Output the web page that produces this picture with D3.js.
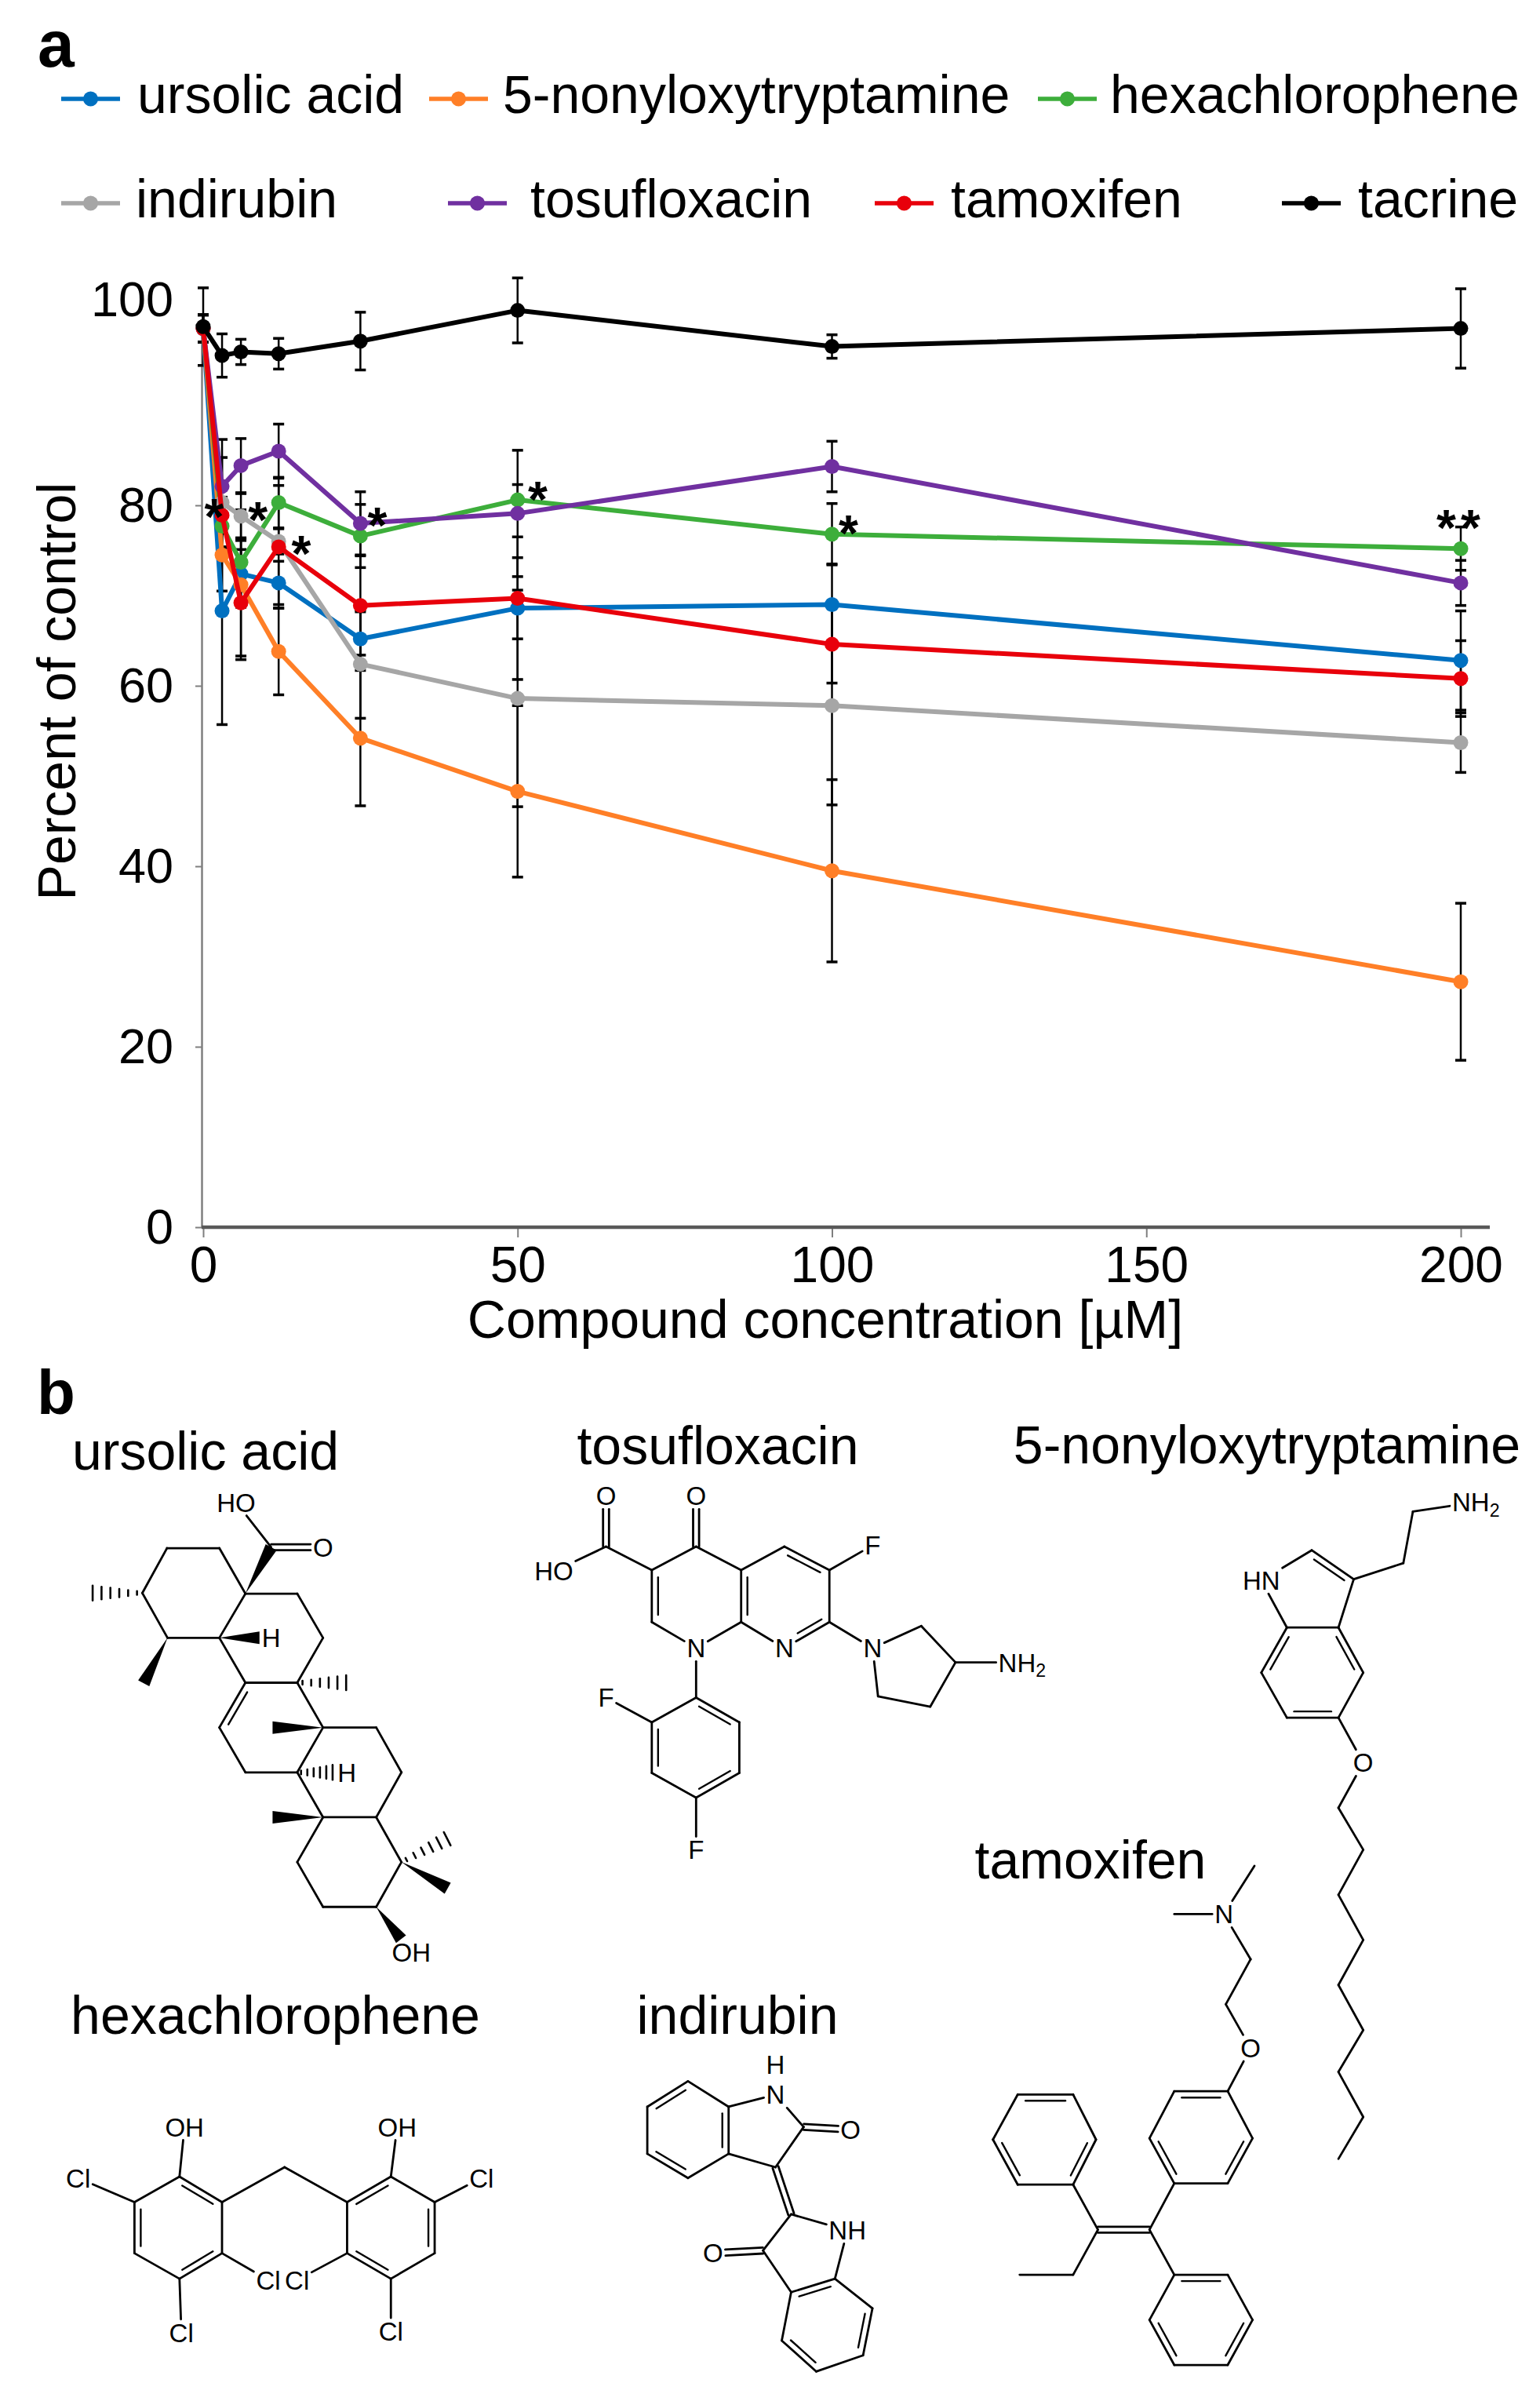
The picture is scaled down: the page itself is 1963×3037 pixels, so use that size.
<!DOCTYPE html>
<html><head><meta charset="utf-8">
<script src="https://cdn.jsdelivr.net/npm/d3@7"></script>
<style>
body{margin:0;background:#fff}
svg{display:block}
text{font-family:"Liberation Sans",Arial,Helvetica,sans-serif}
</style>
</head><body>
<svg id="c" width="1963" height="3037"></svg>
<script>
// ---------------- DATA ----------------
const concentrations = [0, 3, 6, 12, 25, 50, 100, 200];
const seriesNames = ["ursolic acid","5-nonyloxytryptamine","hexachlorophene","indirubin","tosufloxacin","tamoxifen","tacrine"];
const seriesColors = ["#0070C0","#FF7F27","#3DAE3B","#A6A6A6","#7030A0","#E8000B","#000000"];

const ursolicAcid          = [99.6, 68.3, 72.4, 71.4, 65.2, 68.6, 69.0, 62.8];
const ursolicAcidSD        = [1.5, 12.6, 3.7, 2.4, 3.0, 7.9, 4.5, 5.5];
const nonyloxytryptamine   = [99.6, 74.5, 71.2, 63.8, 54.2, 48.3, 39.5, 27.2];
const nonyloxytryptamineSD = [1.5, 4.0, 8.3, 4.8, 7.5, 9.5, 10.1, 8.7];
const hexachlorophene      = [99.6, 77.7, 73.7, 80.3, 76.6, 80.6, 76.8, 75.2];
const hexachloropheneSD    = [1.5, 3.0, 2.7, 2.8, 3.5, 1.7, 3.4, 2.4];
const indirubin            = [99.6, 80.3, 78.8, 76.0, 62.4, 58.6, 57.8, 53.7];
const indirubinSD          = [1.5, 5.0, 2.5, 1.4, 6.0, 12.0, 11.0, 3.3];
const tosufloxacin         = [99.6, 82.1, 84.4, 86.0, 78.0, 79.1, 84.3, 71.4];
const tosufloxacinSD       = [1.5, 5.2, 3.0, 3.0, 3.5, 7.0, 2.8, 2.5];
const tamoxifen            = [99.6, 78.9, 69.2, 75.4, 68.9, 69.7, 64.6, 60.8];
const tamoxifenSD          = [1.5, 3.5, 5.9, 6.8, 5.5, 4.5, 4.3, 4.2];
const tacrine              = [99.8, 96.6, 97.0, 96.8, 98.2, 101.6, 97.6, 99.6];
const tacrineSD            = [4.3, 2.4, 1.4, 1.7, 3.2, 3.6, 1.3, 4.4];

const seriesValues = [ursolicAcid, nonyloxytryptamine, hexachlorophene, indirubin, tosufloxacin, tamoxifen, tacrine];
const seriesSD = [ursolicAcidSD, nonyloxytryptamineSD, hexachloropheneSD, indirubinSD, tosufloxacinSD, tamoxifenSD, tacrineSD];

// significance marks (position in data units)
const starX = [1.75, 8.7, 15.6, 27.7, 53.2, 102.6, 200];
const starY = [79.9, 79.6, 75.8, 79.0, 81.8, 78.1, 78.7];
const starText = ["*","*","*","*","*","*","**"];

const xTicks = [0, 50, 100, 150, 200];
const yTicks = [0, 20, 40, 60, 80, 100];

// ---------------- CHART ----------------
const svg = d3.select("#c");
const x = d3.scaleLinear().domain([0, 200]).range([259, 1862]);
const y = d3.scaleLinear().domain([0, 100]).range([1564, 414]);

svg.append("text").attr("x", 48).attr("y", 85).attr("font-size", 84).attr("font-weight", "bold").text("a");

// legend layout
const legendLineX = [78, 547, 1323, 78, 571, 1115, 1634];
const legendTextX = [175, 641, 1415, 173, 676, 1212, 1731];
const legendRowOf = [0, 0, 0, 1, 1, 1, 1];
const legendRowY = [126, 259];
const lg = svg.append("g");
seriesNames.forEach((n, i) => {
  const yy = legendRowY[legendRowOf[i]];
  lg.append("line").attr("x1", legendLineX[i]).attr("x2", legendLineX[i] + 75)
    .attr("y1", yy).attr("y2", yy).attr("stroke", seriesColors[i]).attr("stroke-width", 5.5);
  lg.append("circle").attr("cx", legendLineX[i] + 37.5).attr("cy", yy).attr("r", 9.5).attr("fill", seriesColors[i]);
  lg.append("text").attr("x", legendTextX[i]).attr("y", yy + 17.5).attr("font-size", 68).text(n);
});

// Y axis
const gy = svg.append("g").attr("transform", `translate(${x(0) - 2},0)`)
  .call(d3.axisLeft(y).tickValues(yTicks).tickSize(8).tickSizeOuter(0).tickPadding(28));
gy.select(".domain").attr("stroke", "#7f7f7f").attr("stroke-width", 2.5);
gy.selectAll(".tick line").attr("stroke", "#7f7f7f").attr("stroke-width", 2);
gy.selectAll(".tick text").attr("font-size", 63).attr("fill", "#000")
  .attr("font-family", "Liberation Sans, Arial, sans-serif");
gy.selectAll(".tick text").filter(d => d === 100).attr("y", -32);

// X axis
const gx = svg.append("g").attr("transform", `translate(0,${y(0)})`)
  .call(d3.axisBottom(x).tickValues(xTicks).tickSize(13).tickSizeOuter(0).tickPadding(12));
gx.select(".domain").remove();
gx.selectAll(".tick line").attr("stroke", "#7f7f7f").attr("stroke-width", 2);
gx.selectAll(".tick text").attr("font-size", 64).attr("fill", "#000")
  .attr("font-family", "Liberation Sans, Arial, sans-serif");
svg.append("line").attr("x1", x(0) - 2).attr("x2", 1899).attr("y1", y(0)).attr("y2", y(0))
  .attr("stroke", "#595959").attr("stroke-width", 4.5);

// axis titles
svg.append("text").attr("transform", "translate(96,881) rotate(-90)")
  .attr("text-anchor", "middle").attr("font-size", 68).text("Percent of control");
svg.append("text").attr("x", 1052).attr("y", 1705).attr("text-anchor", "middle")
  .attr("font-size", 68).text("Compound concentration [µM]");

// error bars
const eg = svg.append("g");
seriesValues.forEach((vals, s) => {
  vals.forEach((v, k) => {
    const e = seriesSD[s][k], cx = x(concentrations[k]);
    eg.append("line").attr("x1", cx).attr("x2", cx).attr("y1", y(v - e)).attr("y2", y(v + e))
      .attr("stroke", "#000").attr("stroke-width", 2.5);
    [v - e, v + e].forEach(t => eg.append("line").attr("x1", cx - 7).attr("x2", cx + 7)
      .attr("y1", y(t)).attr("y2", y(t)).attr("stroke", "#000").attr("stroke-width", 3.5));
  });
});

// lines + markers
const line = d3.line().x((d, k) => x(concentrations[k])).y(d => y(d));
seriesValues.forEach((vals, s) => {
  const g = svg.append("g");
  g.append("path").attr("d", line(vals)).attr("fill", "none")
    .attr("stroke", seriesColors[s]).attr("stroke-width", 6).attr("stroke-linejoin", "round");
  g.selectAll("circle").data(vals).join("circle")
    .attr("cx", (d, k) => x(concentrations[k])).attr("cy", d => y(d)).attr("r", 9.5)
    .attr("fill", seriesColors[s]);
});

// stars
starText.forEach((t, i) => {
  svg.append("text").attr("x", x(starX[i])).attr("y", y(starY[i]) + 36)
    .attr("text-anchor", "middle").attr("font-size", 64).attr("font-weight", "bold")
    .attr("letter-spacing", t.length > 1 ? 6 : 0).text(t);
});

// ---------------- PANEL b: structures ----------------
svg.append("text").attr("x", 47).attr("y", 1802).attr("font-size", 80).attr("font-weight", "bold").text("b");

const titles = [
  ["ursolic acid", 262, 1873], ["tosufloxacin", 915, 1866], ["5-nonyloxytryptamine", 1615, 1865],
  ["tamoxifen", 1390, 2394], ["hexachlorophene", 351, 2592], ["indirubin", 940, 2592]
];
titles.forEach(t => svg.append("text").attr("x", t[1]).attr("y", t[2]).attr("text-anchor", "middle")
  .attr("font-size", 68).text(t[0]));

const LABEL_FS = 33;
function drawMolecule(m) {
  const g = svg.append("g");
  const P = m.atoms.map(a => [m.ox + a[0] * m.sx, m.oy + a[1] * m.sy]);
  const box = {};
  (m.labels || []).forEach(([i, txt]) => {
    const t = g.append("text").attr("x", P[i][0]).attr("y", P[i][1]).attr("dy", "0.36em")
      .attr("text-anchor", "middle").attr("font-size", LABEL_FS).attr("fill", "#000");
    const sub = txt.match(/^(.*?)(\d)$/);
    if (sub) {
      t.append("tspan").text(sub[1]);
      t.append("tspan").attr("font-size", LABEL_FS * 0.7).attr("dy", "0.3em").text(sub[2]);
    } else t.text(txt);
    const w = t.node().getComputedTextLength();
    box[i] = [w / 2 + 3, LABEL_FS * 0.36 + 5];
  });
  function endp(i, j) {
    const [x1, y1] = P[i], [x2, y2] = P[j];
    if (!box[i]) return [x1, y1];
    const dx = x2 - x1, dy = y2 - y1, L = Math.hypot(dx, dy), ux = dx / L, uy = dy / L;
    const [hw, hh] = box[i];
    const t = Math.min(Math.abs(ux) > 1e-6 ? hw / Math.abs(ux) : 1e9, Math.abs(uy) > 1e-6 ? hh / Math.abs(uy) : 1e9);
    return [x1 + ux * t, y1 + uy * t];
  }
  const seg = (a, b, w) => g.append("line").attr("x1", a[0]).attr("y1", a[1]).attr("x2", b[0]).attr("y2", b[1])
    .attr("stroke", "#000").attr("stroke-width", w || 2.8).attr("stroke-linecap", "round");
  m.bonds.forEach(bd => {
    const [i, j, type = "s", ri] = bd;
    const a = endp(i, j), c = endp(j, i);
    const dx = c[0] - a[0], dy = c[1] - a[1], L = Math.hypot(dx, dy), ux = dx / L, uy = dy / L, nx = -uy, ny = ux;
    if (type === "s") seg(a, c);
    else if (type === "D") {
      const o = 3.8;
      seg([a[0] + nx * o, a[1] + ny * o], [c[0] + nx * o, c[1] + ny * o]);
      seg([a[0] - nx * o, a[1] - ny * o], [c[0] - nx * o, c[1] - ny * o]);
    } else if (type === "r") {
      seg(a, c);
      const ring = m.rings[ri];
      const ctr = [d3.mean(ring, k => P[k][0]), d3.mean(ring, k => P[k][1])];
      const mid = [(a[0] + c[0]) / 2, (a[1] + c[1]) / 2];
      const side = Math.sign(nx * (ctr[0] - mid[0]) + ny * (ctr[1] - mid[1])) || 1;
      const o = 8 * side, sh = 0.14 * L;
      seg([a[0] + nx * o + ux * sh, a[1] + ny * o + uy * sh], [c[0] + nx * o - ux * sh, c[1] + ny * o - uy * sh], 2.4);
    } else if (type === "w") {
      const W = 16;
      g.append("polygon").attr("points", [a, [c[0] + nx * W / 2, c[1] + ny * W / 2], [c[0] - nx * W / 2, c[1] - ny * W / 2]].map(p => p.join(",")).join(" "))
        .attr("fill", "#000");
    } else if (type === "h") {
      const W = 17, n = 6;
      for (let k = 0; k < n; k++) {
        const f = (k + 0.6) / n, p = [a[0] + dx * f, a[1] + dy * f], h = 1.5 + f * W / 2;
        seg([p[0] - nx * h, p[1] - ny * h], [p[0] + nx * h, p[1] + ny * h], 2.6);
      }
    }
  });
}

// ursolic acid
drawMolecule({
  ox: 60, oy: 1880, sx: 0.3571, sy: 0.4082,
  atoms: [[428,228],[615,228],[708,370],[615,508],[430,508],[340,368],
          [893,370],[985,508],[893,648],[708,648],
          [985,788],[893,928],[708,928],[615,788],
          [1175,788],[1265,928],[1175,1068],[985,1068],
          [1265,1208],[1175,1348],[985,1348],[893,1208],
          [150,368],[345,650],[800,508],[800,225],[985,225],[675,85],
          [1080,648],[805,788],[1070,928],[805,1068],[1440,1130],[1430,1290],[1300,1490]],
  rings: [[9,8,10,11,12,13]],
  labels: [[24,"H"],[26,"O"],[27,"HO"],[30,"H"],[34,"OH"]],
  bonds: [[0,1],[1,2],[2,3],[3,4],[4,5],[5,0],
          [2,6],[6,7],[7,8],[8,9],[9,3],
          [8,10],[10,11],[11,12],[12,13],[13,9,"r",0],
          [10,14],[14,15],[15,16],[16,17],[17,11],
          [16,18],[18,19],[19,20],[20,21],[21,17],
          [5,22,"h"],[4,23,"w"],[3,24,"w"],[2,25,"w"],[25,26,"D"],[25,27],
          [8,28,"h"],[10,29,"w"],[11,30,"h"],[17,31,"w"],[18,32,"h"],[18,33,"w"],[19,34,"w"]]
});

// tosufloxacin
drawMolecule({
  ox: 660, oy: 1860, sx: 0.4592, sy: 0.3316,
  atoms: [[372,425],[495,335],[620,425],[620,625],[495,725],[372,625],
          [740,335],[865,425],[865,625],[740,725],
          [495,140],[245,335],[245,140],[100,430],[985,330],
          [985,725],[1120,640],[1215,780],[1145,950],[1000,910],[1400,780],
          [495,915],[615,1010],[615,1205],[495,1300],[372,1205],[372,1010],
          [245,915],[495,1500]],
  rings: [[0,1,2,3,4,5],[2,6,7,8,9,3],[21,22,23,24,25,26]],
  labels: [[4,"N"],[9,"N"],[10,"O"],[12,"O"],[13,"HO"],[14,"F"],[15,"N"],[20,"NH2"],[27,"F"],[28,"F"]],
  bonds: [[0,1],[1,2],[2,3,"r",1],[3,4],[4,5],[5,0,"r",0],
          [2,6],[6,7,"r",1],[7,8],[8,9,"r",1],[9,3],
          [1,10,"D"],[0,11],[11,12,"D"],[11,13],
          [7,14],[8,15],[15,16],[16,17],[17,18],[18,19],[19,15],[17,20],
          [4,21],[21,22,"r",2],[22,23],[23,24,"r",2],[24,25],[25,26,"r",2],[26,21],
          [26,27],[24,28]]
});

// 5-nonyloxytryptamine
drawMolecule({
  ox: 1200, oy: 1750, sx: 0.4866, sy: 0.8208,
  atoms: [[905,395],[1040,395],[1105,465],[1040,535],[905,535],[838,465],
          [838,322],[970,275],[1080,320],[1210,295],[1235,215],[1400,200],[1105,605],
          [1040,675],[1105,740],[1040,810],[1105,880],[1040,950],[1105,1020],[1040,1085],[1105,1155],[1040,1220]],
  rings: [[0,1,2,3,4,5],[0,6,7,8,1]],
  labels: [[6,"HN"],[11,"NH2"],[12,"O"]],
  bonds: [[0,1],[1,2,"r",0],[2,3],[3,4,"r",0],[4,5],[5,0,"r",0],
          [0,6],[6,7],[7,8,"r",1],[8,1],[8,9],[9,10],[10,11],[3,12],[12,13],
          [13,14],[14,15],[15,16],[16,17],[17,18],[18,19],[19,20],[20,21]]
});

// tamoxifen
drawMolecule({
  ox: 1200, oy: 1750, sx: 0.4866, sy: 0.8208,
  atoms: [[740,840],[610,840],[820,765],[810,910],[745,980],[810,1048],
          [750,1115],[815,1188],[750,1258],[610,1258],[545,1188],[610,1115],
          [545,1330],[410,1330],
          [345,1260],[405,1190],[345,1120],[200,1120],[135,1190],[200,1260],
          [345,1400],[205,1400],
          [610,1400],[750,1400],[815,1470],[750,1540],[610,1540],[545,1470]],
  rings: [[6,7,8,9,10,11],[14,15,16,17,18,19],[22,23,24,25,26,27]],
  labels: [[0,"N"],[5,"O"]],
  bonds: [[0,1],[0,2],[0,3],[3,4],[4,5],[5,6],
          [6,7],[7,8,"r",0],[8,9],[9,10,"r",0],[10,11],[11,6,"r",0],
          [9,12],[12,13,"D"],[13,14],
          [14,15,"r",1],[15,16],[16,17,"r",1],[17,18],[18,19,"r",1],[19,14],
          [13,20],[20,21],[12,22],
          [22,23,"r",2],[23,24],[24,25,"r",2],[25,26],[26,27,"r",2],[27,22]]
});

// hexachlorophene
drawMolecule({
  ox: 0, oy: 2500, sx: 0.7972, sy: 0.3425,
  atoms: [[287,800],[355,895],[355,1085],[287,1180],[215,1085],[215,895],
          [295,615],[125,805],[290,1380],[429,1185],
          [455,765],
          [625,800],[555,895],[555,1085],[625,1180],[695,1085],[695,895],
          [635,615],[770,805],[625,1375],[475,1185]],
  rings: [[0,1,2,3,4,5],[11,12,13,14,15,16]],
  labels: [[6,"OH"],[7,"Cl"],[8,"Cl"],[9,"Cl"],[17,"OH"],[18,"Cl"],[19,"Cl"],[20,"Cl"]],
  bonds: [[0,1,"r",0],[1,2],[2,3,"r",0],[3,4],[4,5,"r",0],[5,0],
          [0,6],[5,7],[3,8],[2,9],[1,10],[10,12],
          [11,12,"r",1],[12,13],[13,14,"r",1],[14,15],[15,16,"r",1],[16,11],
          [11,17],[16,18],[14,19],[13,20]]
});

// indirubin
drawMolecule({
  ox: 0, oy: 2500, sx: 0.7972, sy: 0.3425,
  atoms: [[1100,445],[1165,540],[1165,715],[1100,805],[1035,715],[1035,540],
          [1240,495],[1240,383],[1285,615],[1360,625],[1240,765],[1265,940],[1355,1000],
          [1220,1075],[1140,1085],
          [1265,1230],[1335,1180],[1395,1290],[1380,1465],[1305,1525],[1250,1410]],
  rings: [[0,1,2,3,4,5],[15,16,17,18,19,20]],
  labels: [[6,"N"],[7,"H"],[9,"O"],[12,"NH"],[14,"O"]],
  bonds: [[0,1],[1,2,"r",0],[2,3],[3,4,"r",0],[4,5],[5,0,"r",0],
          [1,6],[6,8],[8,9,"D"],[8,10],[10,2],[10,11,"D"],[11,12],[11,13],[13,14,"D"],[13,15],[12,16],
          [15,16,"r",1],[16,17],[17,18,"r",1],[18,19],[19,20,"r",1],[20,15]]
});
</script>
</body></html>
